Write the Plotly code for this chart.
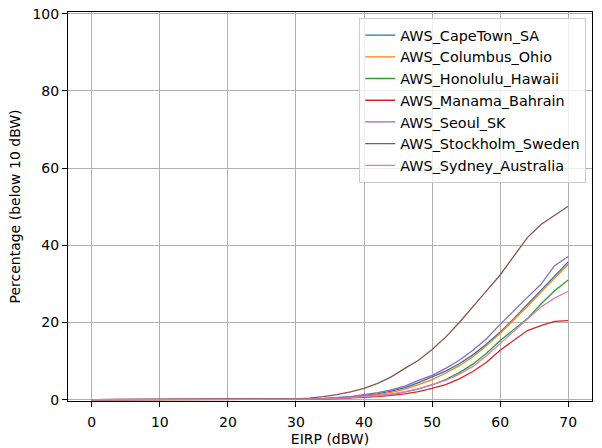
import plotly.graph_objects as go

eirp = list(range(0, 72, 2))

names = ["AWS_CapeTown_SA", "AWS_Columbus_Ohio", "AWS_Honolulu_Hawaii",
         "AWS_Manama_Bahrain", "AWS_Seoul_SK", "AWS_Stockholm_Sweden",
         "AWS_Sydney_Australia"]
colors = ["#1f77b4", "#ff7f0e", "#2ca02c", "#d62728", "#9467bd", "#8c564b", "#e377c2"]

low = [0.0] * 13  # 0..24 dBW
capetown = low + [0.05, 0.08, 0.1, 0.15, 0.25, 0.4, 0.7, 1.1, 1.5, 2.2, 3.1, 4.4, 5.8, 7.4, 9.3, 11.6, 14.4, 17.5, 21.0, 24.6, 28.3, 32.0, 35.7]
columbus = low + [0.04, 0.07, 0.1, 0.14, 0.22, 0.35, 0.6, 1.0, 1.3, 1.9, 2.7, 3.9, 5.2, 6.9, 8.8, 11.1, 14.0, 17.2, 20.6, 24.2, 27.9, 31.6, 35.1]
honolulu = low + [0.03, 0.05, 0.08, 0.12, 0.2, 0.3, 0.5, 0.8, 1.0, 1.4, 2.0, 2.8, 3.8, 5.2, 7.0, 9.2, 12.0, 15.3, 18.2, 21.0, 24.8, 28.2, 31.0]
manama = low + [0.02, 0.04, 0.06, 0.1, 0.15, 0.25, 0.4, 0.6, 0.8, 1.1, 1.5, 2.1, 2.9, 3.9, 5.4, 7.3, 9.7, 12.8, 15.3, 17.9, 19.2, 20.3, 20.5]
seoul = low + [0.05, 0.08, 0.12, 0.18, 0.3, 0.5, 0.8, 1.3, 1.8, 2.5, 3.5, 5.0, 6.3, 8.1, 10.2, 12.8, 15.8, 19.5, 23.1, 26.5, 29.9, 34.7, 37.1]
stockholm = low + [0.08, 0.12, 0.2, 0.4, 0.8, 1.3, 2.0, 2.9, 4.2, 5.9, 8.1, 10.2, 13.0, 16.2, 20.0, 24.0, 28.2, 32.3, 37.2, 42.0, 45.4, 47.8, 50.1]
sydney = low + [0.03, 0.05, 0.08, 0.12, 0.2, 0.3, 0.5, 0.8, 1.0, 1.4, 2.0, 2.8, 3.8, 5.0, 6.6, 8.6, 11.4, 14.6, 17.8, 20.9, 24.0, 26.3, 28.1]

series = [capetown, columbus, honolulu, manama, seoul, stockholm, sydney]

fig = go.Figure()
for i, (n, c, s) in enumerate(zip(names, colors, series)):
    fig.add_trace(go.Scatter(x=eirp, y=s, mode="lines", name=n,
                             line=dict(color=c, width=1.3), legendgroup=str(i)))

font = "DejaVu Sans"
axis_common = dict(showline=True, linecolor="black", linewidth=1, mirror=True,
                   ticks="outside", ticklen=5, tickcolor="black", tickwidth=1,
                   showgrid=True, gridcolor="#b0b0b0", gridwidth=1,
                   zeroline=False, automargin=False,
                   tickfont=dict(family=font, size=14, color="black"))

fig.update_layout(
    width=602, height=448,
    margin=dict(l=68, r=10, t=12, b=47),
    paper_bgcolor="white", plot_bgcolor="white",
    font=dict(family=font, size=14, color="black"),
    xaxis=dict(range=[-3.5, 73.5], tickvals=[0, 10, 20, 30, 40, 50, 60, 70],
               ticklabelstandoff=3,
               title=dict(text="EIRP (dBW)", font=dict(family=font, size=14), standoff=5),
               **axis_common),
    yaxis=dict(range=[-0.35, 100.45], tickvals=[0, 20, 40, 60, 80, 100],
               title=dict(text="Percentage (below 10 dBW)", font=dict(family=font, size=14), standoff=8),
               **axis_common),
    legend=dict(x=0.989, y=0.984, xanchor="right", yanchor="top",
                bgcolor="rgba(255,255,255,0.8)", bordercolor="#cccccc", borderwidth=1,
                font=dict(family=font, size=14.4, color="black"),
                itemwidth=30, traceorder="grouped", tracegroupgap=0),
    showlegend=True,
)

fig.write_html("out.html", config={"displayModeBar": False},
               post_script="document.body.style.margin='0';document.body.style.padding='0';")
